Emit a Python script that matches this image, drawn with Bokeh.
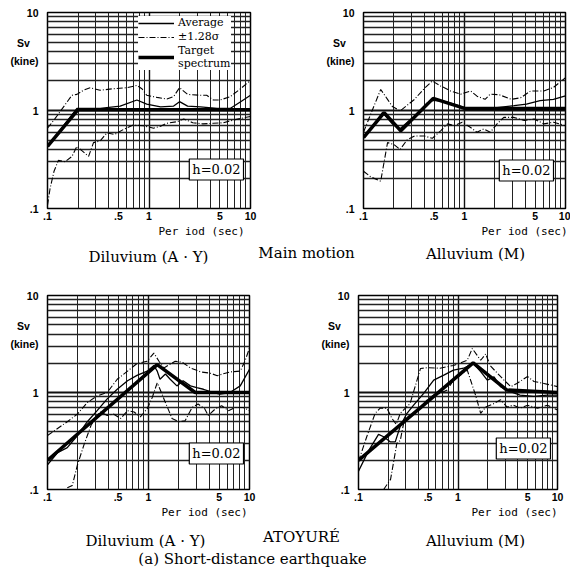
from bokeh.plotting import figure
from bokeh.models import FixedTicker, Label, Legend, LegendItem, Range1d, Title
from bokeh.layouts import column, row
from bokeh.embed import file_html
from bokeh.resources import INLINE
from bokeh.core.properties import value

# ---------------- data (period in sec, Sv in kine) ----------------
P1_TGT_T = [0.1, 0.2, 10]
P1_TGT_S = [0.43, 1.02, 1.02]
P1_AVG_T = [0.1, 0.195, 0.33, 0.52, 0.76, 0.95, 1.3, 1.75, 2.0, 2.4, 3.2, 4.7, 6.3, 8.0, 10]
P1_AVG_S = [0.43, 1.05, 1.05, 1.11, 1.28, 1.16, 1.09, 1.11, 1.23, 1.11, 1.09, 1.05, 1.05, 1.23, 1.43]
P1_UP_T = [0.1, 0.119, 0.144, 0.174, 0.195, 0.226, 0.263, 0.33, 0.45, 0.61, 0.76, 0.85, 0.95, 1.2,
           1.5, 1.75, 2.0, 2.4, 3.2, 3.7, 4.3, 5.0, 6.3, 8.0, 10]
P1_UP_S = [0.66, 0.83, 1.09, 1.43, 1.46, 1.61, 1.71, 1.61, 1.67, 1.71, 1.8, 1.67, 1.43, 1.36,
           1.31, 1.39, 1.71, 1.46, 1.43, 1.43, 1.28, 1.28, 1.38, 1.67, 2.03]
P1_LO_T = [0.1, 0.106, 0.116, 0.128, 0.149, 0.174, 0.195, 0.218, 0.254, 0.284, 0.33, 0.385, 0.46,
           0.56, 0.7, 0.88, 1.11, 1.3, 1.5, 1.9, 2.2, 2.7, 3.4, 4.3, 5.4, 6.8, 8.0, 10]
P1_LO_S = [0.108, 0.16, 0.24, 0.31, 0.3, 0.34, 0.43, 0.39, 0.34, 0.47, 0.49, 0.59, 0.57,
           0.64, 0.71, 0.7, 0.66, 0.69, 0.74, 0.77, 0.82, 0.75, 0.73, 0.74, 0.75, 0.8, 0.83, 0.87]

P2_TGT_T = [0.1, 0.16, 0.234, 0.49, 1.0, 10]
P2_TGT_S = [0.53, 0.95, 0.62, 1.33, 1.05, 1.05]
P2_AVG_T = [0.1, 0.118, 0.154, 0.193, 0.23, 0.32, 0.43, 0.49, 0.63, 0.79, 1.0, 1.44, 2.1, 3.1,
            4.1, 5.6, 7.6, 10]
P2_AVG_S = [0.53, 0.65, 0.95, 0.73, 0.65, 0.88, 1.2, 1.27, 1.24, 1.16, 1.07, 1.05, 1.07, 1.12,
            1.16, 1.26, 1.3, 1.41]
P2_UP_T = [0.1, 0.118, 0.148, 0.173, 0.193, 0.23, 0.32, 0.4, 0.48, 0.58, 0.73, 0.92, 1.15, 1.33,
           1.6, 1.8, 2.2, 2.9, 3.6, 4.5, 6.1, 7.6, 10]
P2_UP_S = [0.6, 0.92, 1.64, 1.3, 1.1, 0.99, 1.3, 1.68, 2.0, 1.78, 1.58, 1.47, 1.58, 1.4,
           1.3, 1.47, 1.45, 1.3, 1.35, 1.58, 1.58, 1.72, 2.16]
P2_LO_T = [0.1, 0.118, 0.148, 0.173, 0.2, 0.23, 0.27, 0.32, 0.4, 0.48, 0.58, 0.68, 0.79, 0.95,
           1.15, 1.33, 1.55, 1.8, 2.1, 2.45, 3.1, 3.9, 4.9, 6.1, 7.6, 10]
P2_LO_S = [0.24, 0.21, 0.19, 0.47, 0.45, 0.4, 0.5, 0.55, 0.55, 0.52, 0.62, 0.73, 0.7, 0.76,
           0.67, 0.6, 0.65, 0.6, 0.73, 0.85, 0.85, 0.79, 0.82, 0.73, 0.76, 0.7]

P3_TGT_T = [0.1, 1.22, 2.9, 10]
P3_TGT_S = [0.2, 1.94, 1.0, 1.0]
P3_AVG_T = [0.1, 0.126, 0.157, 0.198, 0.248, 0.31, 0.39, 0.49, 0.62, 0.77, 0.97, 1.13, 1.22, 1.3,
            1.47, 1.64, 1.91, 2.2, 2.6, 3.0, 3.5, 4.4, 5.1, 6.4, 8.1, 10]
P3_AVG_S = [0.18, 0.24, 0.27, 0.36, 0.5, 0.65, 0.86, 1.08, 1.32, 1.5, 1.66, 1.9, 1.66, 1.37,
            1.55, 1.37, 1.17, 1.32, 1.17, 1.12, 1.08, 1.0, 0.96, 1.0, 1.17, 1.73]
P3_UP_T = [0.1, 0.157, 0.198, 0.248, 0.31, 0.39, 0.49, 0.62, 0.77, 0.97, 1.13, 1.27, 1.42, 1.84,
           2.16, 2.6, 3.3, 4.1, 4.8, 5.3, 6.4, 8.1, 9.0, 10]
P3_UP_S = [0.36, 0.5, 0.6, 0.79, 0.92, 1.0, 1.37, 1.66, 1.99, 2.1, 2.55, 2.1, 1.79, 2.1,
           2.05, 1.79, 1.63, 1.58, 1.49, 1.54, 1.63, 1.66, 2.1, 2.87]
P3_LO_T = [0.157, 0.176, 0.198, 0.23, 0.27, 0.31, 0.336, 0.39, 0.45, 0.53, 0.62, 0.72, 0.83, 0.97,
           1.09, 1.22, 1.3, 1.47, 1.71, 2.0, 2.3, 2.7, 3.1, 3.6, 3.9, 4.6, 5.3, 6.2, 7.2, 8.7, 10]
P3_LO_S = [0.104, 0.11, 0.18, 0.29, 0.46, 0.58, 0.63, 0.58, 0.6, 0.54, 0.65, 0.63, 0.56, 0.68,
           0.89, 1.26, 1.08, 0.79, 0.54, 0.5, 0.51, 0.7, 0.76, 0.68, 0.58, 0.68, 0.73, 0.65, 0.7, 0.7, 0.65]

P4_TGT_T = [0.1, 1.42, 3.1, 10]
P4_TGT_S = [0.2, 2.02, 1.06, 1.0]
P4_AVG_T = [0.1, 0.126, 0.159, 0.179, 0.208, 0.234, 0.263, 0.307, 0.358, 0.452, 0.57, 0.72, 0.9,
            1.14, 1.42, 1.69, 1.97, 2.3, 2.68, 3.36, 4.2, 5.8, 7.9, 10]
P4_AVG_S = [0.154, 0.25, 0.37, 0.35, 0.31, 0.31, 0.45, 0.61, 0.74, 0.98, 1.34, 1.51, 1.7,
            1.78, 2.0, 1.64, 1.34, 1.45, 1.15, 1.02, 0.94, 0.91, 0.94, 0.94]
P4_UP_T = [0.1, 0.121, 0.147, 0.165, 0.193, 0.217, 0.24, 0.263, 0.33, 0.42, 0.49, 0.66, 0.9, 1.24,
           1.39, 1.69, 1.9, 2.1, 2.5, 2.9, 3.4, 3.9, 5.0, 5.8, 7.3, 10]
P4_UP_S = [0.195, 0.35, 0.61, 0.69, 0.69, 0.54, 0.47, 0.61, 0.77, 1.77, 1.8, 1.78, 1.9, 2.15,
           2.84, 2.15, 2.5, 1.9, 1.57, 1.34, 1.15, 1.24, 1.46, 1.3, 1.24, 1.15]
P4_LO_T = [0.179, 0.21, 0.243, 0.263, 0.284, 0.32, 0.358, 0.42, 0.49, 0.57, 0.66, 0.78, 0.9, 1.24,
           1.5, 1.69, 1.9, 2.3, 2.68, 3.1, 3.6, 4.2, 5.0, 6.3, 7.9, 10]
P4_LO_S = [0.1, 0.127, 0.3, 0.32, 0.48, 0.57, 0.61, 0.71, 0.84, 0.94, 0.98, 1.06, 1.34, 1.7,
           0.94, 0.61, 0.71, 0.77, 0.84, 0.71, 0.74, 0.69, 0.74, 0.69, 0.74, 0.66]

X_TICKS = [0.1, 0.5, 1, 5, 10]
X_TICK_LABELS = [".1", ".5", "1", "5", "10"]
Y_TICKS = [0.1, 1, 10]
Y_TICK_LABELS = [".1", "1", "10"]
GRID_MAJOR = [0.1, 1, 10]
GRID_MINOR = [0.2, 0.3, 0.4, 0.5, 0.6, 0.7, 0.8, 0.9, 2, 3, 4, 5, 6, 7, 8, 9]

# y-axis title lines are set as extra labels on the y axis, at these heights
Y_TITLE_AT = [4.9, 3.2]
Y_TITLE_LABELS = ["Sv\u00a0\u00a0\u00a0", "(kine)"]

LEGEND_LABELS = ["Average", "\u00b11.28\u03c3", "Target\nspectrum"]
H_TEXT = "h=0.02"
X_LABEL = "Per iod (sec)"
CAPTIONS_TOP = ["Diluvium (A \u00b7 Y)", "Main motion", "Alluvium (M)"]
CAPTIONS_BOT = ["Diluvium (A \u00b7 Y)", "ATOYUR\u00c9", "Alluvium (M)"]
SUBTITLE = "(a) Short-distance earthquake"

SANS = "Liberation Sans"
SERIF = "DejaVu Serif"
MONO = "DejaVu Sans Mono"
BOUND_DASH = "6 2 1 2"


def panel(curves, w, h, bl, br, bt, bb, per_offset, hbox, legend_loc=None):
    p = figure(width=w, height=h, x_axis_type="log", y_axis_type="log",
               x_range=Range1d(0.1, 10), y_range=Range1d(0.1, 10),
               output_backend="svg", toolbar_location=None,
               min_border_left=bl, min_border_right=br, min_border_top=bt, min_border_bottom=bb,
               background_fill_color="white", border_fill_color="white")
    p.outline_line_color = "black"
    p.outline_line_width = 1.5
    for g, mw, nw in ((p.xgrid, 1.4, 1.0), (p.ygrid, 2.2, 1.6)):
        g.ticker = FixedTicker(ticks=GRID_MAJOR, minor_ticks=GRID_MINOR)
        g.grid_line_color = "#111111"
        g.grid_line_width = mw
        g.minor_grid_line_color = "#222222"
        g.minor_grid_line_width = nw
    p.xaxis.ticker = FixedTicker(ticks=X_TICKS)
    p.xaxis.major_label_overrides = dict(zip(X_TICKS, X_TICK_LABELS))
    p.yaxis.ticker = FixedTicker(ticks=Y_TICKS + Y_TITLE_AT)
    p.yaxis.major_label_overrides = dict(zip(Y_TICKS + Y_TITLE_AT, Y_TICK_LABELS + Y_TITLE_LABELS))
    for ax in (p.xaxis, p.yaxis):
        ax.axis_line_color = None
        ax.major_tick_line_color = None
        ax.minor_tick_line_color = None
        ax.major_label_text_font = SANS
        ax.major_label_text_font_style = "bold"
        ax.major_label_text_font_size = "10.5px"
        ax.major_label_text_color = "black"
    p.xaxis.major_label_standoff = -3
    p.yaxis.major_label_standoff = 3

    (tt, ts), (at, as_), (ut, us), (lt, ls) = curves
    r_up = p.line(ut, us, line_color="black", line_width=1.1, line_dash=BOUND_DASH)
    r_lo = p.line(lt, ls, line_color="black", line_width=1.1, line_dash=BOUND_DASH)
    r_avg = p.line(at, as_, line_color="black", line_width=1.3)
    r_tgt = p.line(tt, ts, line_color="black", line_width=3.5)

    p.add_layout(Title(text=X_LABEL, align="right", offset=per_offset, standoff=0,
                       text_font=MONO, text_font_size="11px", text_font_style="normal",
                       text_color="black"), "below")
    p.add_layout(Label(x=hbox[0], y=hbox[1], x_units="screen", y_units="screen", text=H_TEXT,
                       text_align="right", text_baseline="middle", text_font=SERIF,
                       text_font_size="13px", text_color="black",
                       background_fill_color="white", border_line_color="black",
                       border_line_width=1.2, padding=3))
    if legend_loc is not None:
        leg = Legend(items=[LegendItem(label=LEGEND_LABELS[0], renderers=[r_avg]),
                            LegendItem(label=LEGEND_LABELS[1], renderers=[r_up]),
                            LegendItem(label=LEGEND_LABELS[2], renderers=[r_tgt])],
                     location=legend_loc, background_fill_color="white", background_fill_alpha=1.0,
                     border_line_color=None, label_text_font=SERIF, label_text_font_size="11px",
                     label_text_color="black", glyph_width=36, glyph_height=12, label_height=12,
                     label_standoff=4, spacing=1, padding=4, margin=0, label_text_line_height=1.0)
        p.add_layout(leg)
    return p


p1 = panel([(P1_TGT_T, P1_TGT_S), (P1_AVG_T, P1_AVG_S), (P1_UP_T, P1_UP_S), (P1_LO_T, P1_LO_S)],
           280, 237, 47, 30, 12, 27, per_offset=6, hbox=(196, 39), legend_loc=(91, 138))
p2 = panel([(P2_TGT_T, P2_TGT_S), (P2_AVG_T, P2_AVG_S), (P2_UP_T, P2_UP_S), (P2_LO_T, P2_LO_S)],
           290, 237, 83, 5, 12, 27, per_offset=-2, hbox=(190, 38))
p3 = panel([(P3_TGT_T, P3_TGT_S), (P3_AVG_T, P3_AVG_S), (P3_UP_T, P3_UP_S), (P3_LO_T, P3_LO_S)],
           280, 238, 47, 31, 15, 27, per_offset=2, hbox=(196, 36))
p4 = panel([(P4_TGT_T, P4_TGT_S), (P4_AVG_T, P4_AVG_S), (P4_UP_T, P4_UP_S), (P4_LO_T, P4_LO_S)],
           290, 238, 78, 13, 15, 27, per_offset=0, hbox=(192, 41))


def strip(h, xs, ys, texts):
    s = figure(width=570, height=h, x_range=Range1d(0, 570), y_range=Range1d(0, h),
               output_backend="svg", toolbar_location=None, min_border=0,
               x_axis_location=None, y_axis_location=None)
    s.grid.visible = False
    s.outline_line_color = None
    s.text(x=xs, y=ys, text=texts, text_font=value(SERIF), text_font_size="15px",
           text_align="center", text_baseline="middle", text_color="black")
    return s


cap1 = strip(43, [148, 306, 475], [24, 28, 27], CAPTIONS_TOP)
cap2 = strip(61, [145, 301, 475, 252], [39, 43, 39, 21], CAPTIONS_BOT + [SUBTITLE])

layout = column(row(p1, p2), cap1, row(p3, p4), cap2)
open("out.html", "w").write(file_html(layout, INLINE))
